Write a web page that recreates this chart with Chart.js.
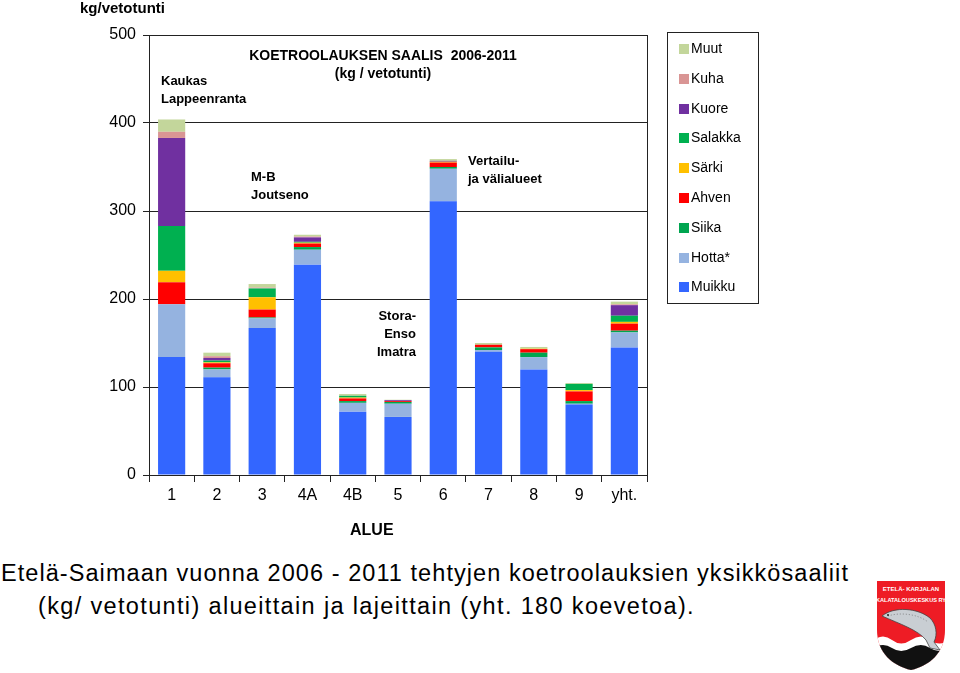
<!DOCTYPE html>
<html>
<head>
<meta charset="utf-8">
<script src="https://cdn.jsdelivr.net/npm/chart.js@4.4.1/dist/chart.umd.min.js"></script>
<style>
  html, body { margin:0; padding:0; background:#fff; }
  body { width:960px; height:673px; position:relative; overflow:hidden; font-family:"Liberation Sans", Arial, sans-serif; color:#000; }
  #wrap { position:absolute; left:0; top:0; width:960px; height:545px; }
  .t { position:absolute; white-space:nowrap; line-height:1; }
  .ann { font-size:13px; font-weight:bold; line-height:18px; }
  #legend { position:absolute; left:667px; top:32px; width:92px; height:272px; border:1px solid #222; box-sizing:border-box; }
  .li { position:absolute; left:11px; font-size:14px; height:16px; line-height:16px; }
  .li span.sw { display:inline-block; width:10px; height:10px; margin-right:2px; vertical-align:-1px; }
  .cap { position:absolute; font-size:23.5px; white-space:nowrap; line-height:1; }
</style>
</head>
<body>
<div id="wrap"><canvas id="c" width="960" height="545"></canvas></div>

<div class="t" style="left:80px;top:0px;font-size:15px;font-weight:bold;">kg/vetotunti</div>
<div class="t" style="left:350px;top:522px;font-size:16px;font-weight:bold;">ALUE</div>

<div class="t ann" style="left:248px;top:46px;font-size:14px;text-align:center;width:270px;">KOETROOLAUKSEN SAALIS&nbsp; 2006-2011<br>(kg / vetotunti)</div>
<div class="t ann" style="left:161px;top:72px;">Kaukas<br>Lappeenranta</div>
<div class="t ann" style="left:251px;top:168px;">M-B<br>Joutseno</div>
<div class="t ann" style="left:356px;top:307px;width:60px;text-align:right;">Stora-<br>Enso<br>Imatra</div>
<div class="t ann" style="left:468px;top:152px;">Vertailu-<br>ja välialueet</div>

<div id="legend"></div>

<div class="cap" id="cap1" style="left:1px;top:562px;">Etelä-Saimaan vuonna 2006 - 2011 tehtyjen koetroolauksien yksikkösaaliit</div>
<div class="cap" id="cap2" style="left:38px;top:595px;">(kg/ vetotunti) alueittain ja lajeittain (yht. 180 koevetoa).</div>

<svg style="position:absolute;left:874px;top:578px;" width="74" height="94" viewBox="0 0 74 94">
  <defs>
    <clipPath id="sh"><path d="M3 3 H71 V52 C71 75 55 88 37 92 C19 88 3 75 3 52 Z"/></clipPath>
  </defs>
  <g clip-path="url(#sh)">
    <rect x="0" y="0" width="74" height="94" fill="#ee1c25"/>
    <path d="M0 62 Q9 55 18 62 T37 62 T56 62 T76 62 V94 H0 Z" fill="#fff"/>
    <path d="M0 70 Q9 64 18 70 T37 70 T56 70 T76 70 V94 H0 Z" fill="#111"/>
  </g>
  <path d="M8 38 C20 28 44 30 56 40 C62 46 64 56 60 64 L66 72 L56 70 L52 62 C44 52 26 46 8 38 Z" fill="#c9ced3" stroke="#444" stroke-width="0.8"/>
  <path d="M14 38 C26 34 44 36 54 44" fill="none" stroke="#555" stroke-width="0.6" stroke-dasharray="1 2"/>
  <circle cx="14" cy="37" r="1" fill="#222"/>
  <text x="37" y="13" fill="#fff" font-size="6" font-weight="bold" text-anchor="middle" font-family="Liberation Sans, Arial">ETELÄ- KARJALAN</text>
  <text x="37" y="24" fill="#fff" font-size="5.6" font-weight="bold" text-anchor="middle" font-family="Liberation Sans, Arial">KALATALOUSKESKUS RY</text>
</svg>

<script>
// ---- data ----
const categories = ['1','2','3','4A','4B','5','6','7','8','9','yht.'];
const muikku  = [134,111,167,239,72,66,311,140,120,80,145];
const hotta   = [60,9,11,17,10,15,37,2,14,1,17];
const siika   = [0,2,1,3,2,2,2,3,5,3,2];
const ahven   = [25,5,9,4,3,1,5,3,4,11,8];
const sarki   = [13,1,14,1,1,0,1,0,0.5,1.5,2];
const salakka = [51,2,10,1,2,0,0,0,0,7,7];
const kuore   = [100,3,0,5,0,1,1,0,0,0,12];
const kuha    = [7,2,1,1,0,0,0,0,0,0,1];
const muut    = [14,4,4,2,2,0.5,2,2,2,1,3];
const yTicks  = [0,100,200,300,400,500];

const seriesNames  = ['Muikku','Hotta*','Siika','Ahven','Särki','Salakka','Kuore','Kuha','Muut'];
const seriesData   = [muikku, hotta, siika, ahven, sarki, salakka, kuore, kuha, muut];
const seriesColors = ['#3366ff','#95b3e0','#00a550','#ff0000','#ffc000','#00b050','#7030a0','#d99594','#c3d69b'];

const FONT = '"Liberation Sans", Arial, sans-serif';

const borderPlugin = {
  id:'frame',
  afterDraw(chart){
    const {ctx, chartArea:a} = chart;
    ctx.save();
    ctx.strokeStyle = '#222';
    ctx.lineWidth = 1;
    ctx.beginPath();
    ctx.moveTo(Math.round(a.right)+0.5, a.top);
    ctx.lineTo(Math.round(a.right)+0.5, a.bottom);
    ctx.stroke();
    ctx.restore();
  }
};

new Chart(document.getElementById('c'), {
  type:'bar',
  data:{
    labels: categories,
    datasets: seriesNames.map((n,i)=>({
      label:n, data:seriesData[i], backgroundColor:seriesColors[i],
      borderWidth:0, categoryPercentage:0.6, barPercentage:1
    }))
  },
  options:{
    responsive:false, animation:false,
    layout:{ padding:{ left:0, right:313, top:35, bottom:0 } },
    plugins:{ legend:{display:false}, tooltip:{enabled:false} },
    scales:{
      x:{
        stacked:true,
        grid:{ display:true, drawOnChartArea:false, color:'#222', tickLength:7, offset:true },
        border:{ color:'#222', width:1 },
        ticks:{ color:'#000', font:{ family:FONT, size:16 }, padding:4, maxRotation:0 },
        afterFit(s){ s.height = 70; }
      },
      y:{
        stacked:true, min:0, max:500,
        afterBuildTicks(s){ s.ticks = yTicks.map(v=>({value:v})); },
        grid:{ color:'#222', lineWidth:1, tickLength:6 },
        border:{ color:'#222', width:1 },
        ticks:{ color:'#000', font:{ family:FONT, size:16 }, padding:7 },
        afterFit(s){ s.width = 149; }
      }
    }
  },
  plugins:[borderPlugin]
});

// legend (HTML), top to bottom reversed order
const lg = document.getElementById('legend');
for (let k = seriesNames.length-1, r=0; k>=0; k--, r++) {
  const d = document.createElement('div');
  d.className='li';
  d.style.top = (7 + r*29.8) + 'px';
  d.innerHTML = '<span class="sw" style="background:'+seriesColors[k]+'"></span>'+seriesNames[k];
  lg.appendChild(d);
}

// fit caption lines to target widths
function fit(id, w){
  const el = document.getElementById(id);
  const n = el.textContent.length;
  const nat = el.getBoundingClientRect().width;
  el.style.letterSpacing = ((w - nat)/n) + 'px';
}
fit('cap1', 848);
fit('cap2', 657);
</script>
</body>
</html>
